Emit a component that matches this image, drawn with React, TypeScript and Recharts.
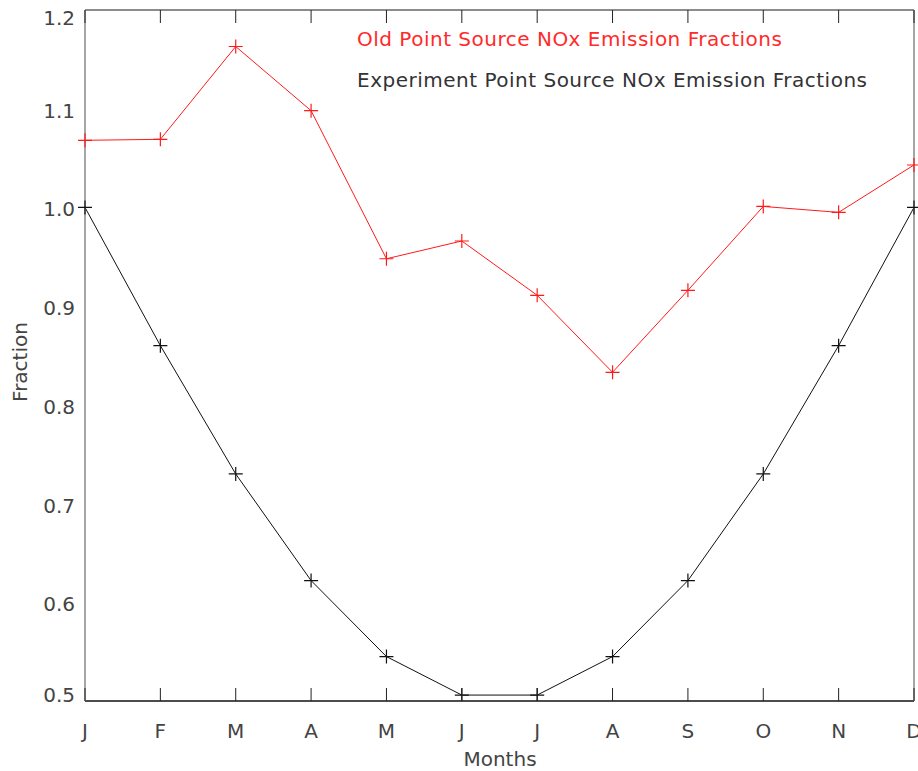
import React from 'react';
import { LineChart, Line, XAxis, YAxis } from 'recharts';

const months = ['J', 'F', 'M', 'A', 'M', 'J', 'J', 'A', 'S', 'O', 'N', 'D'];
const oldFractions = [1.068, 1.069, 1.163, 1.098, 0.948, 0.966, 0.911, 0.833, 0.916, 1.001, 0.995, 1.043];
const expFractions = [1.0, 0.86, 0.73, 0.622, 0.545, 0.506, 0.506, 0.545, 0.622, 0.73, 0.86, 1.0];
const yTicks = [0.5, 0.6, 0.7, 0.8, 0.9, 1.0, 1.1, 1.2];

const data = months.map((m, i) => ({ idx: i, month: m, old: oldFractions[i], exp: expFractions[i] }));

const FONT = '"DejaVu Sans", "Liberation Sans", sans-serif';

// plus-sign marker like the IDL psym=1
const Plus = (color: string) => (props: any) => {
  const { cx, cy, index } = props;
  if (cx == null || cy == null) return null;
  const s = 7;
  return (
    <path
      key={index}
      d={`M${cx - s},${cy}H${cx + s}M${cx},${cy - s}V${cy + s}`}
      stroke={color}
      strokeWidth={1.2}
      fill="none"
    />
  );
};

const BottomTick = (props: any) => {
  const { x, y, payload } = props;
  return (
    <g>
      <line x1={x} x2={x} y1={y} y2={y - 13} stroke="#222" strokeWidth={1} />
      <text x={x} y={y + 37} textAnchor="middle" fontSize={20} fill="#444" fontFamily={FONT}>
        {months[payload.value]}
      </text>
    </g>
  );
};

const TopTick = (props: any) => {
  const { x, y } = props;
  return <line x1={x} x2={x} y1={y} y2={y + 13} stroke="#222" strokeWidth={1} />;
};

// IDL nudges the end labels inward
const LeftTick = (props: any) => {
  const { x, y, payload } = props;
  const v = payload.value;
  const dy = v >= 1.2 ? 15 : v <= 0.5 ? 1 : 9;
  return (
    <text x={x} y={y + dy} textAnchor="end" fontSize={20} fill="#444" fontFamily={FONT}>
      {v.toFixed(1)}
    </text>
  );
};

export default function App() {
  return (
    <div style={{ position: 'relative', width: 918, height: 771, background: '#fff', fontFamily: FONT }}>
      <style>{`body{margin:0}`}</style>
      <LineChart width={918} height={771} data={data} margin={{ top: 9, right: 3, bottom: 0, left: 25 }}>
        <XAxis
          dataKey="idx"
          type="number"
          domain={[0, 11]}
          ticks={[0, 1, 2, 3, 4, 5, 6, 7, 8, 9, 10, 11]}
          height={70}
          tickSize={0}
          tickMargin={0}
          tick={<BottomTick />}
          axisLine={{ stroke: '#111', strokeWidth: 1.5 }}
          tickLine={false}
          interval={0}
        />
        <XAxis
          xAxisId="top"
          orientation="top"
          dataKey="idx"
          type="number"
          domain={[0, 11]}
          ticks={[0, 1, 2, 3, 4, 5, 6, 7, 8, 9, 10, 11]}
          height={1}
          tickSize={0}
          tickMargin={0}
          tick={<TopTick />}
          axisLine={{ stroke: '#666', strokeWidth: 1.5 }}
          tickLine={false}
          interval={0}
        />
        <YAxis
          domain={[0.5, 1.2]}
          ticks={yTicks}
          width={60}
          tickSize={0}
          tickMargin={10}
          tickLine={false}
          axisLine={{ stroke: '#888', strokeWidth: 1.5 }}
          tick={<LeftTick />}
          interval={0}
          allowDataOverflow
        />
        <YAxis
          yAxisId="right"
          orientation="right"
          domain={[0.5, 1.2]}
          width={1}
          tick={false}
          tickLine={false}
          axisLine={{ stroke: '#888', strokeWidth: 1.5 }}
        />
        <Line
          dataKey="old"
          stroke="#ff1a1a"
          strokeWidth={1}
          dot={Plus('#ff1a1a')}
          isAnimationActive={false}
        />
        <Line
          dataKey="exp"
          stroke="#111"
          strokeWidth={1}
          dot={Plus('#111')}
          isAnimationActive={false}
        />
      </LineChart>
      <div style={{ position: 'absolute', left: 357, top: 27, fontSize: 20, color: '#ff2a2a', whiteSpace: 'nowrap', letterSpacing: 0.5 }}>
        Old Point Source NOx Emission Fractions
      </div>
      <div style={{ position: 'absolute', left: 357, top: 68, fontSize: 20, color: '#333', whiteSpace: 'nowrap', letterSpacing: 0.5 }}>
        Experiment Point Source NOx Emission Fractions
      </div>
      <div style={{ position: 'absolute', left: 500, top: 759, transform: 'translate(-50%,-50%)', fontSize: 20, color: '#444', whiteSpace: 'nowrap' }}>
        Months
      </div>
      <div style={{ position: 'absolute', left: 20, top: 362, transform: 'translate(-50%,-50%) rotate(-90deg)', fontSize: 20, color: '#444', whiteSpace: 'nowrap' }}>
        Fraction
      </div>
    </div>
  );
}
